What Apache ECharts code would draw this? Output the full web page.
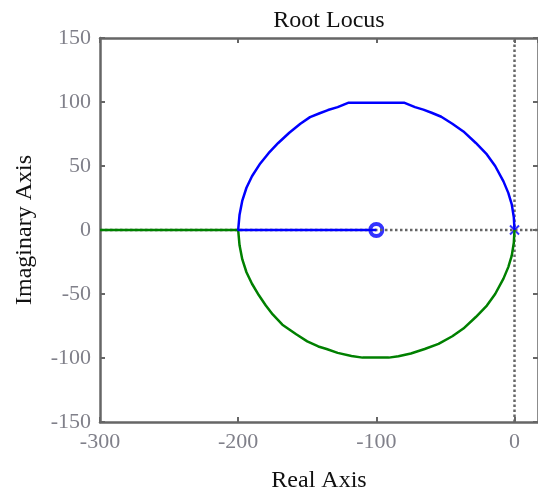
<!DOCTYPE html>
<html><head><meta charset="utf-8">
<script src="https://cdn.jsdelivr.net/npm/echarts@6/dist/echarts.min.js"></script>
<style>html,body{margin:0;padding:0;background:#fff}#c{width:538px;height:498px}</style>
</head><body><div id="c"></div>
<script>
var xTicks = [-300, -200, -100, 0];
var yTicks = [-150, -100, -50, 0, 50, 100, 150];
// blue branch: from pole at 0 up around circle to -200, then along real axis to zero at -100
var blueBranch = [[0,0],[-0.5,10],[-2,20],[-4.5,29],[-8,38],[-14,50],[-20,59],[-28,68],[-37,77],[-45,83],[-53,88.5],[-60,91.6],[-66,94],[-72,96],[-80,99.5],[-100,99.5],[-120,99.5],[-128,96],[-135,93.7],[-141,91.2],[-148,88.2],[-155,83],[-163,76],[-171,68],[-178,60],[-184,52],[-190,42],[-194,33],[-197,23],[-199,12],[-200,0],[-150,0],[-100,0]];
// green branch: from pole at 0 down around circle to -200, then along real axis to the left
var greenBranch = [[0,0],[-0.5,-10],[-2,-20],[-4.5,-29],[-8,-38],[-14,-50],[-20,-59],[-28,-68],[-37,-77],[-45,-83],[-55,-89],[-65,-93],[-75,-96.5],[-84,-98.7],[-91,-99.7],[-110,-99.7],[-118,-98.4],[-128,-96],[-136,-93],[-142,-91],[-150,-87],[-158,-81.5],[-168,-74],[-175,-66],[-180,-59],[-185,-51],[-190,-42],[-194,-33],[-197,-23],[-199,-12],[-200,0],[-250,0],[-300,0]];
var zeros = [[-100,0]];
var poles = [[0,0]];
var xRange = [-300, 17];
var yRange = [-150, 150];

var serif = '"Liberation Serif","DejaVu Serif",serif';
var chart = echarts.init(document.getElementById('c'), null, {renderer:'canvas'});
var axisLine = {show:true, onZero:false, lineStyle:{color:'#666', width:2.5}};
var tick = {inside:true, length:5, lineStyle:{color:'#666', width:2}};
var lblColor = '#80808a';
chart.setOption({
  animation:false,
  title:{text:'Root Locus', left:324, top:4, textAlign:'center',
    textStyle:{fontFamily:serif, fontWeight:'normal', fontSize:24, color:'#111'}},
  grid:{left:100, top:38, width:440, height:391, show:false},
  xAxis:[{type:'value', min:xRange[0], max:xRange[1], interval:100, position:'bottom',
    axisLine:axisLine, axisTick:tick,
    axisLabel:{showMaxLabel:false, margin:9, fontFamily:serif, fontSize:22, color:lblColor},
    splitLine:{show:false},
    name:'Real Axis', nameLocation:'middle', nameGap:47,
    nameTextStyle:{fontFamily:serif, fontSize:24, color:'#111'}},
   {type:'value', min:xRange[0], max:xRange[1], interval:100, position:'top',
    axisLine:axisLine, axisTick:tick,
    axisLabel:{show:false}, splitLine:{show:false}}],
  yAxis:[{type:'value', min:yRange[0], max:yRange[1], interval:50, position:'left',
    axisLine:axisLine, axisTick:tick,
    axisLabel:{margin:9, fontFamily:serif, fontSize:22, color:lblColor},
    splitLine:{show:false},
    name:'Imaginary Axis', nameLocation:'middle', nameGap:63,
    nameTextStyle:{fontFamily:serif, fontSize:24, color:'#111'}},
   {type:'value', min:yRange[0], max:yRange[1], interval:50, position:'right',
    axisLine:axisLine, axisTick:tick,
    axisLabel:{show:false}, splitLine:{show:false}}],
  series:[
    {type:'line', data:[[0,yRange[0]],[0,yRange[1]]], symbol:'none', silent:true,
      lineStyle:{color:'#666', width:2.5, type:[2.5,2.5]}},
    {type:'line', data:[[xRange[0],0],[xRange[1],0]], symbol:'none', silent:true,
      lineStyle:{color:'#666', width:2.5, type:[2.5,2.5]}},
    {type:'line', data:greenBranch, symbol:'none', lineStyle:{color:'#008000', width:2.5}},
    {type:'line', data:blueBranch, symbol:'none', lineStyle:{color:'#0000ff', width:2.5}},
    {type:'scatter', data:zeros, symbol:'circle', symbolSize:12,
      itemStyle:{color:'#fff', borderColor:'#0000ff', borderWidth:4}},
    {type:'scatter', data:poles, symbol:'path://M0,0L10,10M10,0L0,10', symbolSize:9,
      itemStyle:{color:'none', borderColor:'#0000ff', borderWidth:2}}
  ]
});
</script></body></html>
